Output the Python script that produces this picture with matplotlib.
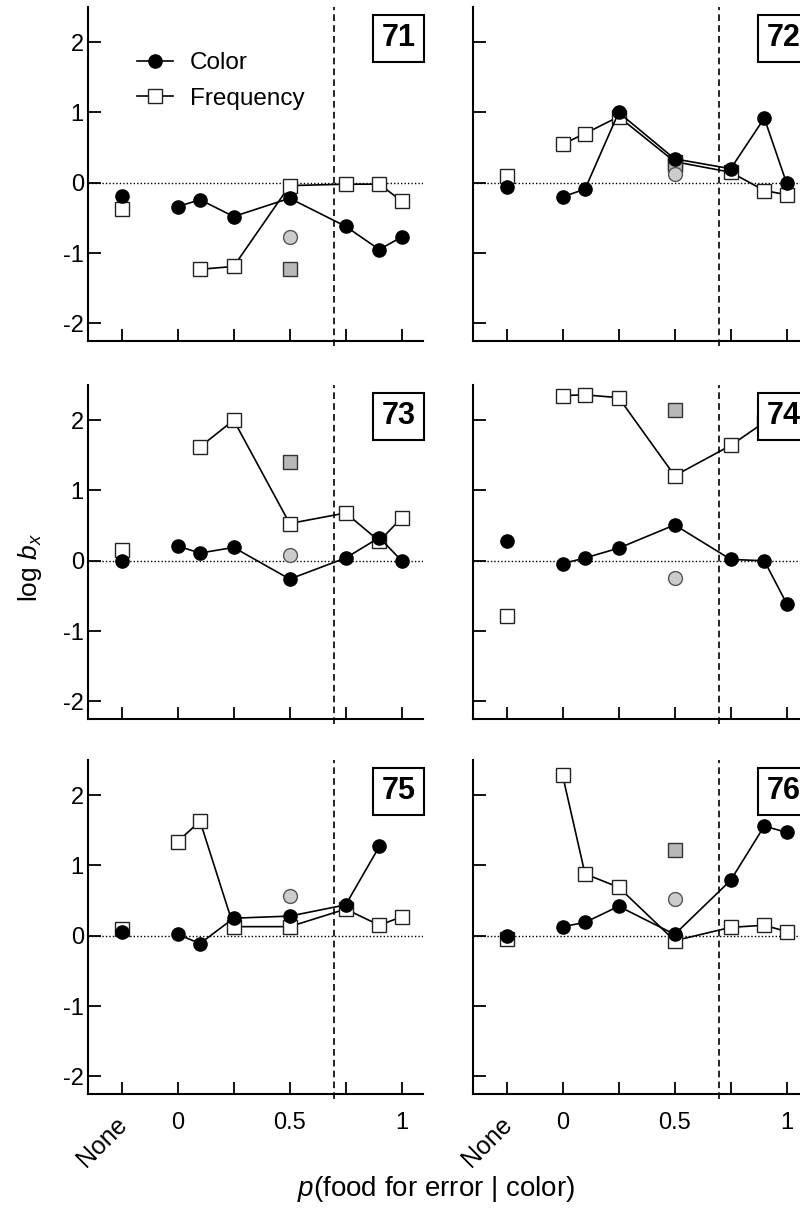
import numpy as np
import matplotlib
matplotlib.use("Agg")
import matplotlib.pyplot as plt
import matplotlib.transforms as mtransforms
from matplotlib.lines import Line2D

plt.rcParams['font.family'] = ['Liberation Sans', 'DejaVu Sans']
plt.rcParams['mathtext.fontset'] = 'custom'
plt.rcParams['mathtext.rm'] = 'Liberation Sans'
plt.rcParams['mathtext.it'] = 'Liberation Sans:italic'

nan = np.nan

# x positions: first one is the "None" condition
x_pos = [-0.25, 0, 0.1, 0.25, 0.5, 0.75, 0.9, 1.0]
tick_pos = [-0.25, 0, 0.25, 0.5, 0.75, 1.0]
tick_labels = ['None', '0', '', '0.5', '', '1']

subjects = ['71', '72', '73', '74', '75', '76']

color_71 = [-0.19, -0.34, -0.24, -0.48, -0.22, -0.62, -0.95, -0.77]
freq_71 = [-0.37, nan, -1.23, -1.19, -0.04, -0.02, -0.02, -0.26]
color_72 = [-0.06, -0.20, -0.09, 1.00, 0.34, 0.20, 0.92, -0.01]
freq_72 = [0.10, 0.55, 0.70, 0.94, 0.30, 0.15, -0.11, -0.17]
color_73 = [0.0, 0.21, 0.11, 0.19, -0.26, 0.04, 0.33, 0.0]
freq_73 = [0.15, nan, 1.62, 2.0, 0.53, 0.68, 0.28, 0.61]
color_74 = [0.28, -0.04, 0.04, 0.18, 0.51, 0.02, 0.0, -0.61]
freq_74 = [-0.78, 2.35, 2.36, 2.32, 1.21, 1.64, 1.97, nan]
color_75 = [0.06, 0.02, -0.11, 0.25, 0.28, 0.44, 1.27, nan]
freq_75 = [0.09, 1.34, 1.63, 0.13, 0.13, 0.38, 0.15, 0.27]
color_76 = [0.0, 0.13, 0.19, 0.42, 0.02, 0.79, 1.56, 1.47]
freq_76 = [-0.05, 2.28, 0.88, 0.69, -0.07, 0.12, 0.15, 0.06]

# grey points at p = 0.5
grey_x = 0.5
grey_circle = [-0.77, 0.12, 0.08, -0.25, 0.57, 0.52]
grey_square = [-1.23, 0.25, 1.41, 2.15, nan, 1.22]

color_data = [color_71, color_72, color_73, color_74, color_75, color_76]
freq_data = [freq_71, freq_72, freq_73, freq_74, freq_75, freq_76]

W, H = 800, 1215
fig = plt.figure(figsize=(W / 100, H / 100), dpi=100)

col_left = [88, 473]
ax_w = 335
row_top = [7, 385, 760]
ax_h = 334

circ = dict(marker='o', ms=9.5, mfc='black', mec='black', color='black', lw=1.2)
sq = dict(marker='s', ms=10, mfc='white', mec='#222222', mew=1.0, color='black', lw=1.2)

for i, subj in enumerate(subjects):
    r, c = divmod(i, 2)
    ax = fig.add_axes([col_left[c] / W, (H - row_top[r] - ax_h) / H, ax_w / W, ax_h / H])
    ax.set_xlim(-0.40, 1.095)
    ax.set_ylim(-2.25, 2.5)

    ax.axhline(0, ls=(0, (1, 1.5)), lw=1.0, color='black', zorder=1)
    ax.axvline(0.7, ymin=-0.015, ls=(0, (4, 2.5)), lw=1.2, color='black', clip_on=False, zorder=1)

    cd = color_data[i]
    fd = freq_data[i]
    ax.plot(x_pos[1:], fd[1:], zorder=3, **sq)
    ax.plot(x_pos[:1], fd[:1], zorder=3, **sq)
    ax.plot(grey_x, grey_square[i], marker='s', ms=10, mfc='#b8b8b8', mec='#333333', mew=1.0, ls='none', zorder=4)
    ax.plot(grey_x, grey_circle[i], marker='o', ms=10, mfc='#cccccc', mec='#555555', mew=1.0, ls='none', zorder=4)
    ax.plot(x_pos[1:], cd[1:], zorder=5, **circ)
    ax.plot(x_pos[:1], cd[:1], zorder=5, **circ)

    ax.text(0.927, 0.907, subj, transform=ax.transAxes, ha='center', va='center',
            fontsize=22, fontweight='bold', zorder=10,
            bbox=dict(boxstyle='square,pad=0.28', fc='white', ec='black', lw=1.5))

    for s in ['top', 'right']:
        ax.spines[s].set_visible(False)
    for s in ['left', 'bottom']:
        ax.spines[s].set_linewidth(1.5)

    ax.set_yticks([-2, -1, 0, 1, 2])
    ax.set_xticks(tick_pos)
    ax.tick_params(direction='in', length=9, width=1.3, labelsize=17)
    ax.tick_params(axis='y', pad=3)
    ax.tick_params(axis='x', pad=13)
    if c == 0:
        ax.set_yticklabels(['-2', '-1', '0', '1', '2'])
    else:
        ax.set_yticklabels([])
    if r == 2:
        ax.set_xticklabels(tick_labels)
        lbl = ax.get_xticklabels()[0]
        lbl.set_rotation(45)
        lbl.set_ha('right')
        lbl.set_va('top')
        lbl.set_rotation_mode('anchor')
        lbl.set_fontsize(18)
        shift = mtransforms.ScaledTranslation(-5 / 72, 0, fig.dpi_scale_trans)
        lbl.set_transform(lbl.get_transform() + shift)
    else:
        ax.set_xticklabels([])

    if i == 0:
        handles = [Line2D([], [], **circ), Line2D([], [], **sq)]
        ax.legend(handles, ['Color', 'Frequency'], loc='upper left',
                  bbox_to_anchor=(0.08, 0.93), frameon=False, fontsize=17.5,
                  handlelength=1.5, handletextpad=0.7, labelspacing=0.55)

fig.text(30 / W, (H - 568) / H, r'log $b_x$', rotation=90, ha='center', va='center', fontsize=19)
fig.text(436 / W, (H - 1189) / H, r'$p$(food for error | color)', ha='center', va='center', fontsize=20)

fig.savefig('out.png', dpi=100)
